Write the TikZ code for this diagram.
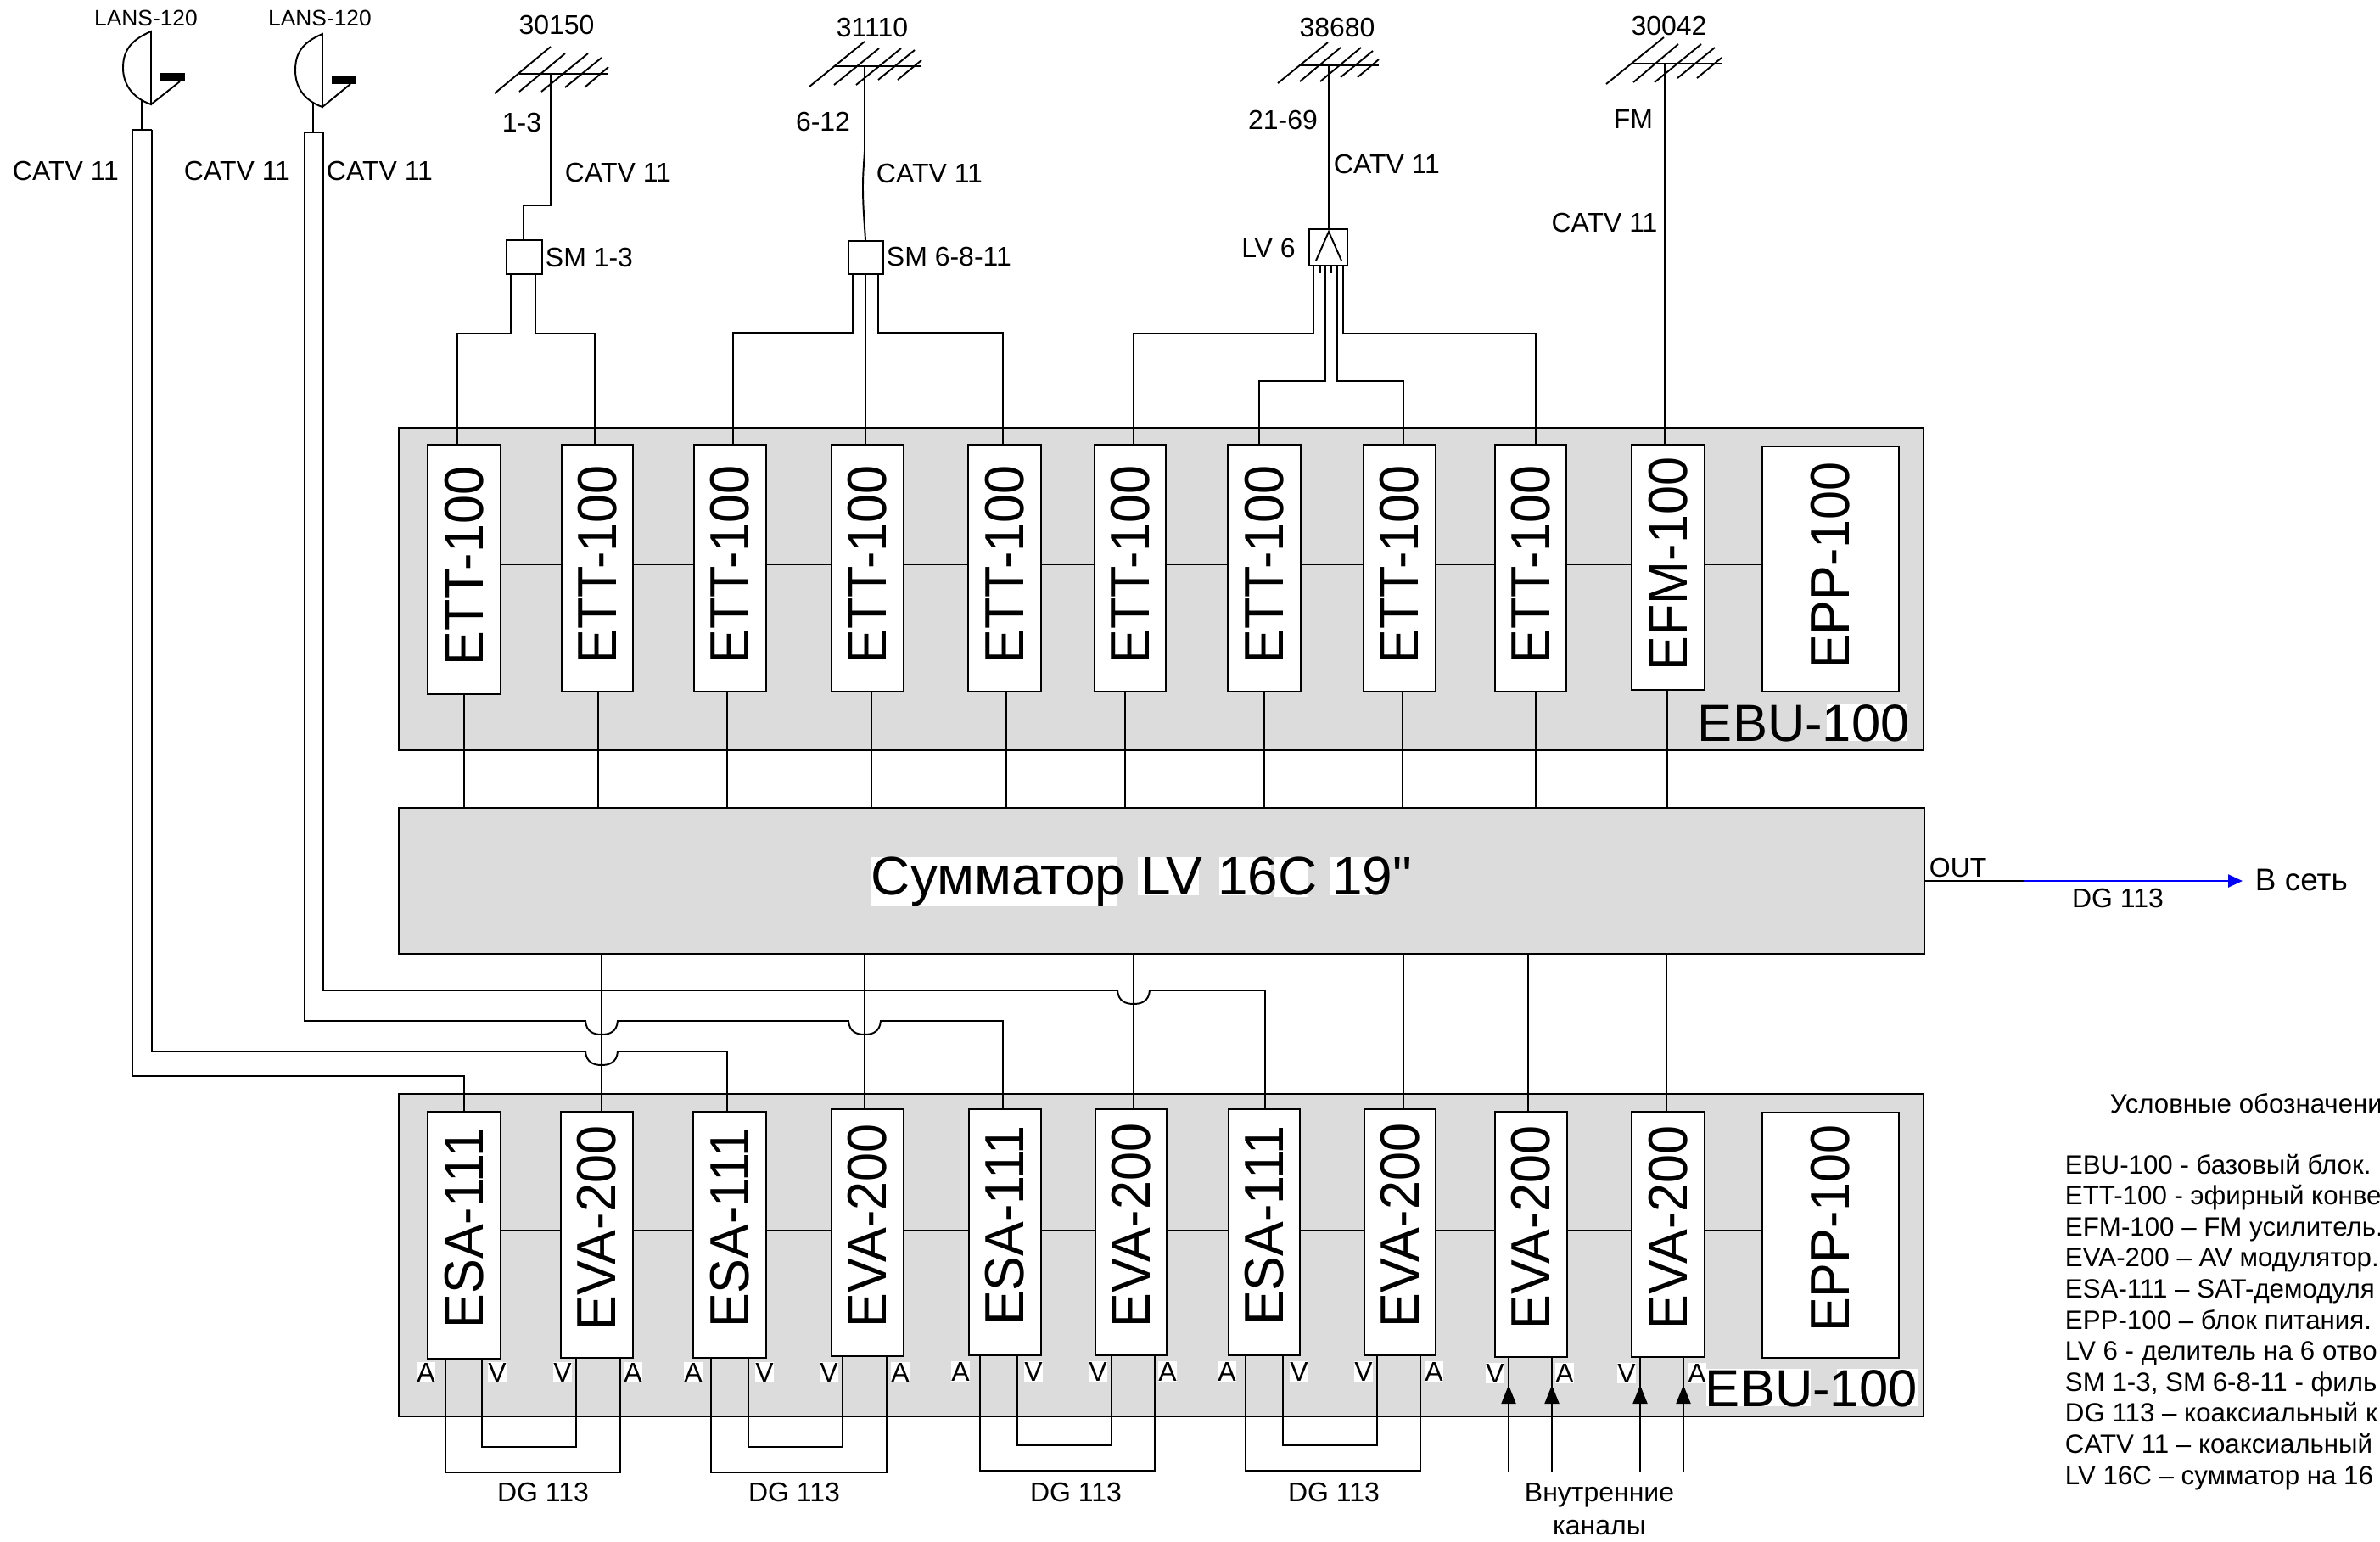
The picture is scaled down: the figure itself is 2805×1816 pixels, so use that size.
\documentclass[tikz,border=0pt]{standalone}
\usepackage{fontspec}
\usepackage{graphicx}
\setmainfont{Liberation Sans}
\newfontfamily\modf[FakeStretch=0.94]{Liberation Sans}
\newfontfamily\sumf{Liberation Sans}
\usetikzlibrary{arrows.meta}
\definecolor{panelgray}{RGB}{220,220,220}
\newcommand{\fs}[1]{\fontsize{#1}{#1}\selectfont}
\newcommand{\hop}[2]{-- ({#1-19},#2) .. controls +(1,13) and +(-9,0) .. ++(19,16) .. controls +(9,0) and +(-1,13) .. ++(19,-16)}
\tikzset{
  x=0.1mm,y=-0.1mm,
  every path/.style={line width=0.55pt,black},
  panel/.style={draw,fill=panelgray,line width=0.65pt,inner sep=0pt},
  modbox/.style={draw,fill=white,line width=0.65pt,inner sep=0pt,font=\modf\fs{18.5}},
  smallbox/.style={draw,fill=white,line width=0.65pt,inner sep=0pt},
  lab/.style={inner sep=0pt,font=\fs{9.1}},
  lans/.style={inner sep=0pt,font=\fs{7.5}},
  big/.style={inner sep=0pt,font=\fs{17.5}},
  av/.style={inner sep=0pt,fill=white,font=\fs{9.1},minimum width=2.1mm,minimum height=2.4mm},
  leg/.style={inner sep=0pt,anchor=base west,font=\fs{8.9}},
  intip/.style={-{Triangle[length=2.2mm,width=1.7mm]}},
}
\begin{document}
\begin{tikzpicture}
\useasboundingbox (0,0) rectangle (2805,1816);
% panels
\node[panel,minimum width=179.7mm,minimum height=38mm] (ptop) at (1368.5,694) {};
\node[panel,minimum width=179.7mm,minimum height=38mm] (pbot) at (1368.5,1479) {};
\fill[white] (2153,829) rectangle (2248,873);
\fill[white] (2011,1613) rectangle (2134,1657);
\fill[white] (2165,1613) rectangle (2260,1657);
\node[big,anchor=base west] (ebut) at (2000,873) {EBU-100};
\node[big,anchor=base west] (ebub) at (2009,1657) {EBU-100};
% summator
\node[panel,minimum width=179.8mm,minimum height=17.2mm] (sum) at (1369,1038) {};
\fill[white] (1026,1010) rectangle (1317,1068);
\fill[white] (1341,1010) rectangle (1413,1055);
\fill[white] (1437,1010) rectangle (1498,1055);
\fill[white] (1502,1010) rectangle (1542,1057);
\fill[white] (1568,1010) rectangle (1630,1055);
\node[inner sep=0pt,anchor=base west,font=\sumf\fs{18.2}] (sumtxt) at (1026,1054) {Сумматор LV 16C 19"};
% chain reference heights
\coordinate (chT) at (0,665);
\coordinate (chB) at (0,1450);
% top modules
\foreach \n/\cx/\w/\cy/\h/\t in {
 t1/547/86/671/294/ETT-100, t2/704/84/669.5/291/ETT-100, t3/860.5/85/669.5/291/ETT-100,
 t4/1022.5/85/669.5/291/ETT-100, t5/1184/86/669.5/291/ETT-100, t6/1332/84/669.5/291/ETT-100,
 t7/1490/86/669.5/291/ETT-100, t8/1649.5/85/669.5/291/ETT-100, t9/1804/84/669.5/291/ETT-100,
 t10/1966/86/668.5/289/EFM-100, t11/2157.5/161/670.5/289/EPP-100}
 {\node[modbox,minimum width=\w*0.1mm,minimum height=\h*0.1mm] (\n) at (\cx,\cy) {\rotatebox{90}{\hspace*{0.8mm}\t}};}
% bottom modules
\foreach \n/\cx/\w/\cy/\h/\t in {
 b1/547/86/1455.5/291/ESA-111, b2/703.5/85/1455/290/EVA-200, b3/860/86/1455/290/ESA-111,
 b4/1022.5/85/1452.5/291/EVA-200, b5/1184.5/85/1452/290/ESA-111, b6/1333/84/1452/290/EVA-200,
 b7/1490/84/1452/290/ESA-111, b8/1650/84/1452/290/EVA-200, b9/1804.5/85/1454.5/289/EVA-200,
 b10/1966/86/1454.5/289/EVA-200, b11/2157.5/161/1455.5/289/EPP-100}
 {\node[modbox,minimum width=\w*0.1mm,minimum height=\h*0.1mm] (\n) at (\cx,\cy) {\rotatebox{90}{\hspace*{1.6mm}\t}};}
% chains
\foreach \a/\c in {t1/t2,t2/t3,t3/t4,t4/t5,t5/t6,t6/t7,t7/t8,t8/t9,t9/t10,t10/t11}
  {\draw (\a.east |- chT) -- (\c.west |- chT);}
\foreach \a/\c in {b1/b2,b2/b3,b3/b4,b4/b5,b5/b6,b6/b7,b7/b8,b8/b9,b9/b10,b10/b11}
  {\draw (\a.east |- chB) -- (\c.west |- chB);}
% top modules to summator
\foreach \m/\xx in {t1/547,t2/705,t3/857,t4/1027,t5/1186,t6/1326,t7/1490,t8/1653,t9/1810,t10/1965}
  {\draw (\xx,0 |- \m.south) -- (\xx,0 |- sum.north);}
% summator to bottom modules
\foreach \m/\xx in {b8/1654,b9/1801,b10/1964}
  {\draw (\xx,0 |- sum.south) -- (\xx,0 |- \m.north);}
\draw (709,0 |- sum.south) -- (709,0 |- b2.north);
\draw (1019,0 |- sum.south) -- (1019,0 |- b4.north);
\draw (1336,0 |- sum.south) -- (1336,0 |- b6.north);
% dishes
\coordinate (d1o) at (156,153); \coordinate (d1i) at (179,153);
\coordinate (d2o) at (359,156); \coordinate (d2i) at (381,156);
\draw (178,37) .. controls (152,48) and (145,62) .. (145,80) .. controls (145,98) and (155,115) .. (178,123) -- cycle;
\draw (178,123) -- (212,96);
\fill (189,86) rectangle (218,96);
\draw (167,118) -- (167,153);
\draw (d1o) -- (d1i);
\draw (380,40) .. controls (354,51) and (348,65) .. (348,83) .. controls (348,101) and (357,118) .. (380,126) -- cycle;
\draw (380,126) -- (413,99);
\fill (391,89) rectangle (420,99);
\draw (369,120) -- (369,156);
\draw (d2o) -- (d2i);
\node[lans] (lans1) at (172,21) {LANS-120};
\node[lans] (lans2) at (377,21) {LANS-120};
% satellite cables
\draw (d1o) -- (156,1268) -- (547,1268) -- (b1.north);
\draw (d1i) -- (179,1239) \hop{709}{1239} -- (857,1239) -- (857,0 |- b3.north);
\draw (d2o) -- (359,1203) \hop{709}{1203} \hop{1019}{1203} -- (1182,1203) -- (1182,0 |- b5.north);
\draw (d2i) -- (381,1167) \hop{1336}{1167} -- (1491,1167) -- (1491,0 |- b7.north);
\node[lab,anchor=west] (cv1) at (14,201) {CATV 11};
\node[lab,anchor=west] (cv2) at (216,201) {CATV 11};
\node[lab,anchor=west] (cv3) at (384,201) {CATV 11};
% antenna 1
\draw (612,87) -- (717,87);
\draw (583,110) -- (649,55) (612,108) -- (666,63) (638,108) -- (693,63) (666,103) -- (709,68) (689,103) -- (717,79);
\coordinate (a1) at (649,87);
\node[smallbox,minimum width=4.2mm,minimum height=4mm] (sm1) at (618,303) {};
\draw (a1) -- (649,242) -- (617,242) -- (617,0 |- sm1.north);
\draw (602,0 |- sm1.south) -- (602,393) -- (539,393) -- (539,0 |- t1.north);
\draw (631,0 |- sm1.south) -- (631,393) -- (701,393) -- (701,0 |- t2.north);
\node[lab] (n30150) at (656,29) {30150};
\node[lab] (n13) at (615,144) {1-3};
\node[lab,anchor=west] (cv4) at (665,203) {CATV 11};
\node[lab,anchor=west] (sm1l) at (642,303) {SM 1-3};
% antenna 2
\draw (983,78) -- (1086,78);
\draw (954,102) -- (1019,49) (983,100) -- (1036,57) (1009,100) -- (1062,57) (1035,94) -- (1078,59) (1058,94) -- (1086,71);
\coordinate (a2) at (1019,78);
\node[smallbox,minimum width=4.1mm,minimum height=3.9mm] (sm2) at (1020.5,303.5) {};
\draw (a2) -- (1019,178) .. controls (1018,195) and (1017,205) .. (1017,220) .. controls (1017,245) and (1019,265) .. (1020,0 |- sm2.north);
\draw (1005,0 |- sm2.south) -- (1005,392) -- (864,392) -- (864,0 |- t3.north);
\draw (1020,0 |- sm2.south) -- (1020,0 |- t4.north);
\draw (1035,0 |- sm2.south) -- (1035,392) -- (1182,392) -- (1182,0 |- t5.north);
\node[lab] (n31110) at (1028,32) {31110};
\node[lab] (n612) at (970,143) {6-12};
\node[lab,anchor=west] (cv5) at (1032,204) {CATV 11};
\node[lab,anchor=west] (sm2l) at (1044,302) {SM 6-8-11};
% antenna 3
\draw (1532,77) -- (1625,77);
\draw (1506,98) -- (1565,50) (1532,96) -- (1580,56) (1556,96) -- (1604,56) (1580,91) -- (1618,60) (1600,91) -- (1625,70);
\coordinate (a3) at (1566,77);
\node[smallbox,minimum width=4.5mm,minimum height=4.3mm] (lv6) at (1565.5,291.5) {};
\draw (1551,307) -- (1566,273) -- (1581,307);
\draw (a3) -- (1566,0 |- lv6.north);
\draw (1548,0 |- lv6.south) -- (1548,393) -- (1336,393) -- (1336,0 |- t6.north);
\draw (1583,0 |- lv6.south) -- (1583,393) -- (1810,393) -- (1810,0 |- t9.north);
\draw (1562,0 |- lv6.south) -- (1562,449) -- (1484,449) -- (1484,0 |- t7.north);
\draw (1576,0 |- lv6.south) -- (1576,449) -- (1654,449) -- (1654,0 |- t8.north);
\draw (1556,0 |- lv6.south) -- (1556,322);
\draw (1569,0 |- lv6.south) -- (1569,322);
\node[lab] (n38680) at (1576,32) {38680};
\node[lab] (n2169) at (1512,141) {21-69};
\node[lab,anchor=west] (cv6) at (1571,193) {CATV 11};
\node[lab] (lv6l) at (1495,292) {LV 6};
% antenna 4
\draw (1925,75) -- (2029,75);
\draw (1893,99) -- (1961,44) (1925,97) -- (1978,52) (1950,97) -- (2005,52) (1977,92) -- (2021,56) (2000,92) -- (2029,68);
\coordinate (a4) at (1962,75);
\draw (a4) -- (1962,0 |- t10.north);
\node[lab] (n30042) at (1967,30) {30042};
\node[lab] (nfm) at (1925,140) {FM};
\node[lab] (cv7) at (1891,262) {CATV 11};
% A/V loops
\draw (525,0 |- b1.south) -- (525,1735) -- (731,1735) -- (731,0 |- b2.south);
\draw (568,0 |- b1.south) -- (568,1705) -- (679,1705) -- (679,0 |- b2.south);
\draw (838,0 |- b3.south) -- (838,1735) -- (1045,1735) -- (1045,0 |- b4.south);
\draw (882,0 |- b3.south) -- (882,1705) -- (993,1705) -- (993,0 |- b4.south);
\draw (1155,0 |- b5.south) -- (1155,1733) -- (1361,1733) -- (1361,0 |- b6.south);
\draw (1199,0 |- b5.south) -- (1199,1703) -- (1310,1703) -- (1310,0 |- b6.south);
\draw (1468,0 |- b7.south) -- (1468,1733) -- (1674,1733) -- (1674,0 |- b8.south);
\draw (1512,0 |- b7.south) -- (1512,1703) -- (1623,1703) -- (1623,0 |- b8.south);
% internal channel inputs
\foreach \xx/\m in {1778/b9,1829/b9,1933/b10,1984/b10}
 {\draw[intip] (\xx,1734) -- (\xx,1632); \draw (\xx,1640) -- (\xx,0 |- \m.south);}
\foreach \xx/\yy/\t in {502/1617/A,586/1617/V,663/1617/V,746/1617/A,817/1617/A,901/1617/V,977/1617/V,1061/1617/A,
 1132/1616/A,1218/1616/V,1294/1616/V,1376/1616/A,1446/1616/A,1531/1616/V,1607/1616/V,1690/1616/A,
 1762/1618/V,1844/1618/A,1917/1618/V,2000/1618/A}
 {\node[av] at (\xx,\yy) {\t};}
\node[lab] (dg1) at (640,1758) {DG 113};
\node[lab] (dg2) at (936,1758) {DG 113};
\node[lab] (dg3) at (1268,1758) {DG 113};
\node[lab] (dg4) at (1572,1758) {DG 113};
\node[lab] (vn1) at (1885,1762) {Внутренние};
\node[lab] (vn2) at (1885,1800) {каналы};
% output
\node[inner xsep=1.4mm,inner ysep=0pt,anchor=west,font=\fs{10.5}] (net) at (2643,1037) {В сеть};
\draw (2269,0 |- sum.east) -- (2412,0 |- sum.east);
\draw[blue,line width=0.7pt,-{Triangle[length=1.7mm,width=1.5mm]}] (2385,0 |- sum.east) -- (2643,0 |- sum.east);
\node[lab,anchor=west] (outl) at (2273,1022) {OUT};
\node[lab] (dg5) at (2496,1058) {DG 113};
% legend
\node[leg] (leg0) at (2486,1311) {Условные обозначени};
\node[leg] (leg1) at (2433,1383) {EBU-100 - базовый блок.};
\node[leg] (leg2) at (2433,1419.6) {ETT-100 - эфирный конве};
\node[leg] (leg3) at (2433,1456.2) {EFM-100 – FM усилитель.};
\node[leg] (leg4) at (2433,1492.8) {EVA-200 – AV модулятор.};
\node[leg] (leg5) at (2433,1529.4) {ESA-111 – SAT-демодуля};
\node[leg] (leg6) at (2433,1566) {EPP-100 – блок питания.};
\node[leg] (leg7) at (2433,1602.6) {LV 6 - делитель на 6 отво};
\node[leg] (leg8) at (2433,1639.2) {SM 1-3, SM 6-8-11 - филь};
\node[leg] (leg9) at (2433,1675.8) {DG 113 – коаксиальный к};
\node[leg] (leg10) at (2433,1712.4) {CATV 11 – коаксиальный};
\node[leg] (leg11) at (2433,1749) {LV 16C – сумматор на 16};
\end{tikzpicture}
\end{document}
